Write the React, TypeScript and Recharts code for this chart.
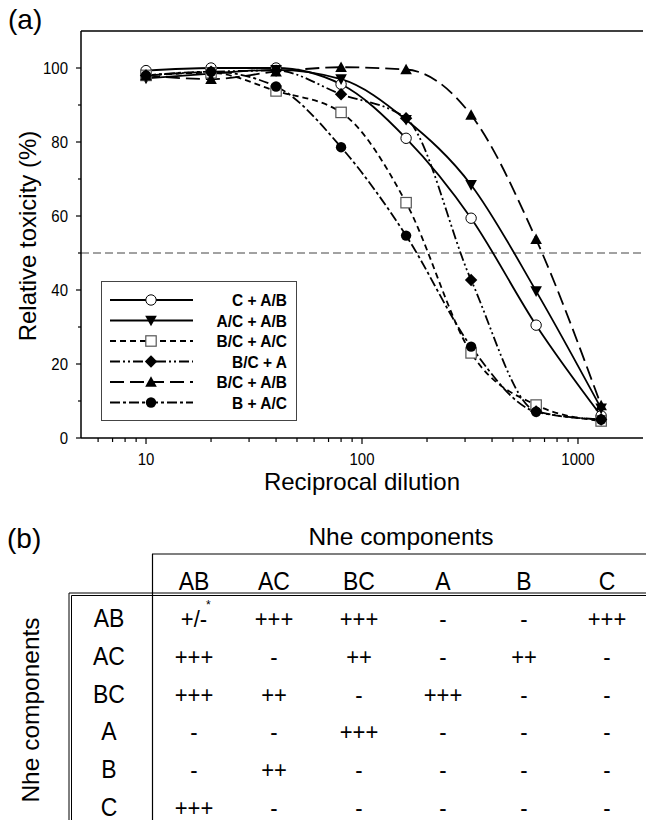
import React from 'react';
import { ComposedChart, Line, XAxis, YAxis, ReferenceLine, Legend } from 'recharts';

// ---------- data ----------
const dilutions = [10, 20, 40, 80, 160, 320, 640, 1280];
const seriesNames = ['C + A/B', 'A/C + A/B', 'B/C + A/C', 'B/C + A', 'B/C + A/B', 'B + A/C'];
const cAB = [99.3, 100, 100, 95.6, 81, 59.4, 30.5, 6];
const acAB = [97.2, 98.5, 99.5, 97, 86, 68.4, 39.7, 8];
const bcAC = [98, 98.7, 93.8, 88, 63.6, 23, 8.9, 4.6];
const bcA = [98, 99, 99.3, 92.9, 86.4, 42.7, 7.2, 5];
const bcAB = [98, 97, 99, 100.2, 99.6, 87.3, 53.7, 8.8];
const bAC = [98, 99, 95, 78.6, 54.7, 24.7, 7.1, 5];
const seriesValues = [cAB, acAB, bcAC, bcA, bcAB, bAC];

const xMajorTicks = [10, 100, 1000];
const xMinorTicks = [6, 7, 8, 9, 20, 30, 40, 50, 60, 70, 80, 90, 200, 300, 400, 500, 600, 700, 800, 900];
const yMajorTicks = [0, 20, 40, 60, 80, 100];
const yMinorTicks = [10, 30, 50, 70, 90];
const halfLine = 50;

const tableCols = ['AB', 'AC', 'BC', 'A', 'B', 'C'];
const tableRows = ['AB', 'AC', 'BC', 'A', 'B', 'C'];
const tableCells = [
  ['+/-', '+++', '+++', '-', '-', '+++'],
  ['+++', '-', '++', '-', '++', '-'],
  ['+++', '++', '-', '+++', '-', '-'],
  ['-', '-', '+++', '-', '-', '-'],
  ['-', '++', '-', '-', '-', '-'],
  ['+++', '-', '-', '-', '-', '-'],
];

// ---------- styles ----------
const FONT = "'Liberation Sans', Arial, Helvetica, sans-serif";
const SY = 1.15;
const dashes = [undefined, undefined, '6 4', '10 3 2 3 2 3', '14 6', '10 3 3 3'];
const markers = ['circleOpen', 'triDown', 'square', 'diamond', 'triUp', 'circle'];

const chartData = dilutions.map((x, i) => {
  const row: any = { x };
  seriesValues.forEach((vals, s) => {
    row['s' + s] = vals[i];
  });
  return row;
});

function SText(props: any) {
  const { x, y, children, sy = SY, ...rest } = props;
  return (
    <text transform={`translate(${x},${y}) scale(1,${sy})`} x={0} y={0} fontFamily={FONT} fill="#000" {...rest}>
      {children}
    </text>
  );
}

function Marker({ kind, cx, cy }: { kind: string; cx: number; cy: number }) {
  if (cx == null || cy == null) return null;
  switch (kind) {
    case 'circleOpen':
      return <circle cx={cx} cy={cy} r={5.2} fill="#fff" stroke="#000" strokeWidth={1} />;
    case 'triDown':
      return <polygon points={`${cx - 5.8},${cy - 4.8} ${cx + 5.8},${cy - 4.8} ${cx},${cy + 5.8}`} fill="#000" />;
    case 'square':
      return <rect x={cx - 5.2} y={cy - 5.2} width={10.4} height={10.4} fill="#fff" stroke="#555" strokeWidth={1.2} />;
    case 'diamond':
      return <polygon points={`${cx},${cy - 6.2} ${cx + 6.2},${cy} ${cx},${cy + 6.2} ${cx - 6.2},${cy}`} fill="#000" />;
    case 'triUp':
      return <polygon points={`${cx - 5.8},${cy + 4.8} ${cx + 5.8},${cy + 4.8} ${cx},${cy - 5.8}`} fill="#000" />;
    default:
      return <circle cx={cx} cy={cy} r={5.2} fill="#000" />;
  }
}

const XTick = (props: any) => {
  const { x, y, payload } = props;
  const v = payload.value;
  const major = xMajorTicks.includes(v);
  return (
    <g>
      <line x1={x} x2={x} y1={y} y2={y + (major ? 6 : 4)} stroke="#000" strokeWidth={1.2} />
      {major && (
        <SText x={x} y={y + 27} textAnchor="middle" fontSize={15}>
          {v}
        </SText>
      )}
    </g>
  );
};

const YTick = (props: any) => {
  const { x, y, payload } = props;
  const v = payload.value;
  const major = yMajorTicks.includes(v);
  return (
    <g>
      <line x1={x} x2={x - (major ? 5 : 3)} y1={y} y2={y} stroke="#000" strokeWidth={1.2} />
      {major && (
        <SText x={x - 13} y={y + 6} textAnchor="end" fontSize={15}>
          {v}
        </SText>
      )}
    </g>
  );
};

const renderLegend = () => (
  <svg width={196} height={140} style={{ display: 'block' }}>
    <rect x={0.5} y={0.5} width={195} height={139} fill="#fff" stroke="#444" strokeWidth={1} />
    {seriesNames.map((name, i) => {
      const y = 19 + i * 20.5;
      return (
        <g key={name}>
          <line x1={9} x2={92} y1={y} y2={y} stroke="#000" strokeWidth={1.8} strokeDasharray={dashes[i]} />
          <Marker kind={markers[i]} cx={50} cy={y} />
          <SText x={186} y={y + 6} textAnchor="end" fontWeight="bold" fontSize={15.5} sy={1.1}>
            {name}
          </SText>
        </g>
      );
    })}
  </svg>
);

const colX = [194, 274, 359, 443, 524, 607];
const rowBase = (i: number) => 627 + i * 37.8;

export default function App() {
  return (
    <div style={{ position: 'absolute', left: 0, top: 0, width: 646, height: 820, background: '#fff', fontFamily: FONT, overflow: 'hidden' }}>
      <ComposedChart
        width={646}
        height={500}
        data={chartData}
        margin={{ top: 31, right: 3, left: 0, bottom: 32 }}
      >
        <XAxis
          dataKey="x"
          type="number"
          scale="log"
          domain={[5, 2000]}
          allowDataOverflow
          ticks={[...xMajorTicks, ...xMinorTicks]}
          interval={0}
          tickLine={false}
          tickSize={0}
          tickMargin={0}
          tick={<XTick />}
          height={30}
          axisLine={{ stroke: '#000', strokeWidth: 1.5 }}
          label={(p: any) => {
            const vb = p.viewBox;
            return (
              <text x={vb.x + vb.width / 2} y={490} textAnchor="middle" fontSize={24} fontFamily={FONT} fill="#000">
                Reciprocal dilution
              </text>
            );
          }}
        />
        <YAxis
          type="number"
          domain={[0, 110]}
          allowDataOverflow
          ticks={[...yMajorTicks, ...yMinorTicks]}
          interval={0}
          tickLine={false}
          tickSize={0}
          tickMargin={0}
          tick={<YTick />}
          width={81}
          axisLine={{ stroke: '#000', strokeWidth: 1.5 }}
          label={() => (
            <text
              transform="translate(36, 236) rotate(-90)"
              textAnchor="middle"
              fontSize={24}
              fontFamily={FONT}
              fill="#000"
            >
              Relative toxicity (%)
            </text>
          )}
        />
        <ReferenceLine y={110} stroke="#000" strokeWidth={1.5} />
        <ReferenceLine y={halfLine} stroke="#444" strokeWidth={1} strokeDasharray="8 4" />
        {seriesNames.map((name, i) => (
          <Line
            key={name}
            name={name}
            dataKey={'s' + i}
            type="monotone"
            stroke="#000"
            strokeWidth={1.8}
            strokeDasharray={dashes[i]}
            isAnimationActive={false}
            dot={(p: any) => <Marker key={name + p.index} kind={markers[i]} cx={p.cx} cy={p.cy} />}
            activeDot={false}
          />
        ))}
        <Legend
          layout="vertical"
          align="center"
          verticalAlign="middle"
          content={renderLegend}
          wrapperStyle={{ left: 101, top: 281, width: 196, height: 140 }}
        />
      </ComposedChart>

      <svg
        width={646}
        height={820}
        style={{ position: 'absolute', left: 0, top: 0, pointerEvents: 'none' }}
        fontFamily={FONT}
      >
        <text x={8} y={29} fontSize={28} fill="#000">(a)</text>
        <text x={7} y={548} fontSize={28} fill="#000">(b)</text>
        <text x={401} y={545} fontSize={24.5} textAnchor="middle" fill="#000">Nhe components</text>
        <text transform="translate(39, 710) rotate(-90)" fontSize={24.5} textAnchor="middle" fill="#000">
          Nhe components
        </text>
        <line x1={152} x2={646} y1={554} y2={554} stroke="#000" strokeWidth={1.2} />
        <line x1={152.5} x2={152.5} y1={554} y2={820} stroke="#000" strokeWidth={1.2} />
        <line x1={69} x2={646} y1={593} y2={593} stroke="#000" strokeWidth={1} />
        <line x1={71.5} x2={646} y1={595.5} y2={595.5} stroke="#000" strokeWidth={1} />
        <line x1={69} x2={69} y1={593} y2={820} stroke="#000" strokeWidth={1} />
        <line x1={71.5} x2={71.5} y1={595.5} y2={820} stroke="#000" strokeWidth={1} />
        {tableCols.map((c, j) => (
          <SText key={'h' + c} x={colX[j]} y={590} fontSize={23} textAnchor="middle">
            {c}
          </SText>
        ))}
        {tableRows.map((r, i) => (
          <g key={'r' + r}>
            <SText x={109} y={rowBase(i)} fontSize={23} textAnchor="middle">
              {r}
            </SText>
            {tableCells[i].map((v, j) => (
              <SText key={j} x={colX[j]} y={rowBase(i)} fontSize={22} textAnchor="middle" sy={1.08}>
                {v}
              </SText>
            ))}
          </g>
        ))}
        <text x={206} y={609} fontSize={12} fill="#000">*</text>
      </svg>
    </div>
  );
}
